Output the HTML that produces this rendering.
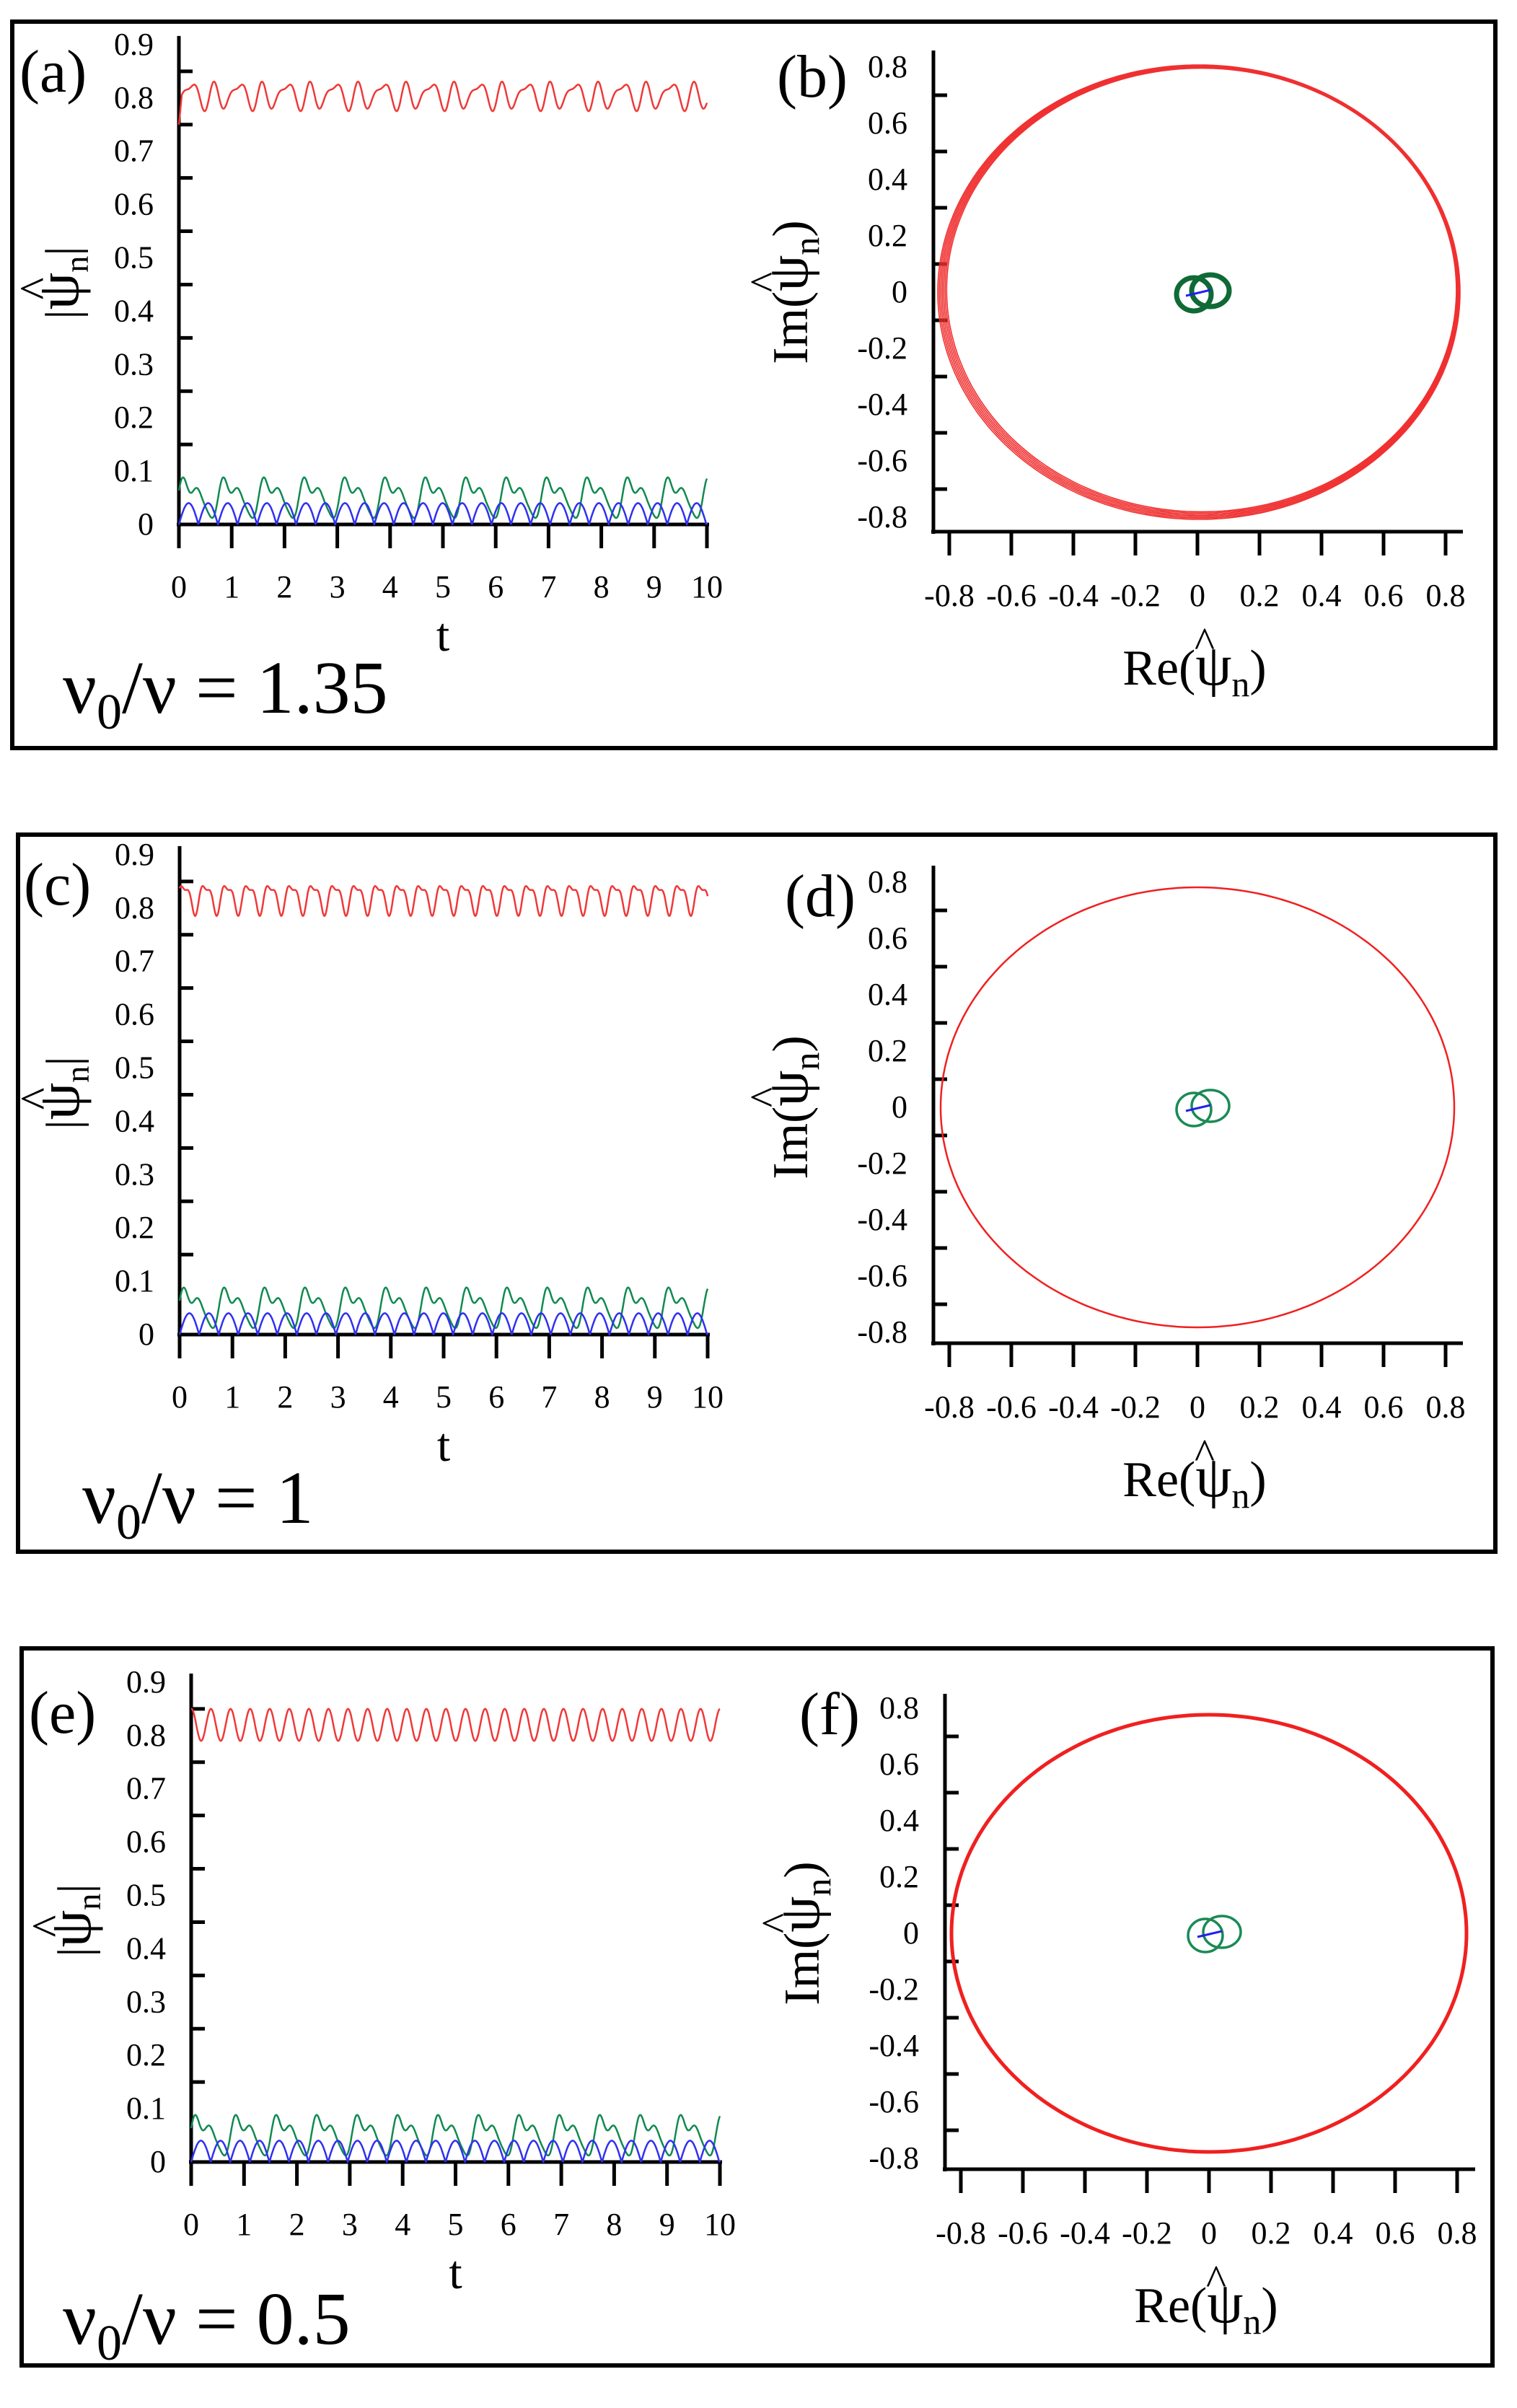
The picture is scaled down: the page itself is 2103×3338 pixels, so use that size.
<!DOCTYPE html>
<html><head><meta charset="utf-8">
<style>
html,body{margin:0;padding:0;background:#fff;}
svg{display:block;}
</style></head>
<body>
<svg id="s" width="2103" height="3338" viewBox="0 0 2103 3338" xmlns="http://www.w3.org/2000/svg"></svg>
<script>
var S=document.getElementById('s');var out='';
var FF=' font-family="\'Liberation Serif\', \'Times New Roman\', serif" ';
function T(x,y,s,fs,anchor,extra){out+='<text'+FF+'x="'+x+'" y="'+y+'" font-size="'+fs+'" text-anchor="'+(anchor||'start')+'" '+(extra||'')+'>'+s+'</text>';}
function L(x1,y1,x2,y2,w,c){out+='<line x1="'+x1+'" y1="'+y1+'" x2="'+x2+'" y2="'+y2+'" stroke="'+(c||'#000')+'" stroke-width="'+w+'"/>';}
function P(pts,c,w){var d='M'+pts.map(function(p){return p[0].toFixed(1)+' '+p[1].toFixed(1)}).join('L');out+='<path d="'+d+'" fill="none" stroke="'+c+'" stroke-width="'+w+'" stroke-linejoin="round"/>';}
function frame(x1,y1,x2,y2){out+='<rect x="'+x1+'" y="'+y1+'" width="'+(x2-x1)+'" height="'+(y2-y1)+'" fill="none" stroke="#000" stroke-width="6"/>';}
function psi(x,y,fs){
 out+='<g transform="rotate(-90 '+x+' '+y+')"><text'+FF+'x="'+x+'" y="'+y+'" font-size="'+fs+'" text-anchor="middle">|<tspan font-size="'+(fs*1.25)+'">ψ</tspan><tspan font-size="'+(fs*0.7)+'" dy="14">n</tspan><tspan dy="-14">|</tspan></text>'+
 '<text'+FF+'x="'+(x-8)+'" y="'+(y-36)+'" font-size="'+fs+'" text-anchor="middle">^</text></g>';
}
function timePlot(x0,y0,x10,lab,labx,laby,nutext,nux,nuy,mode){
 var k=739;
 L(x0,y0+3,x0,y0-0.9*k-12,5);
 L(x0-3,y0,x10+3,y0,5);
 for(var i=1;i<=8;i++){var yy=y0-(i+0.5)*k/10;L(x0,yy,x0+19,yy,5);}
 for(var i=0;i<=10;i++){var xx=x0+(x10-x0)*i/10;L(xx,y0,xx,y0+33,5);T(xx,y0+101,i,44,'middle');}
 for(var i=0;i<=9;i++){var yy=y0-i*k/10;T(x0-35,yy+14,i==0?'0':'0.'+i,44,'end');}
 T((x0+x10)/2,y0+175,'t',66,'middle');
 T(labx,laby,lab,84);
 psi(x0-140,y0-335,66);
 T(nux,nuy,'ν<tspan font-size="70" dy="22">0</tspan><tspan dy="-22">/ν = '+nutext+'</tspan>',104);
 var r=[],g=[],b=[];
 for(var j=0;j<=1500;j++){var t=j/150;var x=x0+(x10-x0)*t/10;
  var rv;
  if(mode==0) rv=0.805+0.02*Math.sin(2*Math.PI*2.2*t-1.5)+0.012*Math.sin(2*Math.PI*3.3*t+0.5)+0.006*Math.sin(2*Math.PI*1.1*t);
  else if(mode==1) rv=0.82+0.025*Math.sin(2*Math.PI*2.45*t+0.3)+0.01*Math.sin(2*Math.PI*4.9*t+1.8);
  else rv=0.82+0.03*Math.sin(2*Math.PI*2.7*t+1.5);
  if(mode==0&&t<0.05)rv=0.75+t*1.0;
  r.push([x,y0-rv*k]);
  var ph=2*Math.PI*t/0.765;
  var gv=0.052+0.028*Math.sin(ph)+0.016*Math.sin(2*ph+0.8)+0.006*Math.sin(3*ph);
  g.push([x,y0-gv*k]);
  var bv=0.04*Math.abs(Math.sin(Math.PI*t/0.37));
  b.push([x,y0-bv*k]);
 }
 P(r,'#f03838',2.5);P(g,'#108a50',2.5);P(b,'#3030f0',2.5);
}
function phasePlot(ax,top,xend,ay,xc,yc,rx,ry,lab,labx,laby,mode){
 L(ax,top,ax,ay+3,5);L(ax-3,ay,xend,ay,5);
 for(var v=-7;v<=7;v+=2){var yy=yc-v*39;L(ax,yy,ax+19,yy,5);}
 for(var i=-4;i<=4;i++){var xx=xc+i*86;L(xx,ay,xx,ay+33,5);var s=(i<0?'-':'')+(i==0?'0':'0.'+Math.abs(2*i));T(xx,ay+103,s,44,'middle');}
 for(var i=-4;i<=4;i++){var yy=yc-i*78;var s=(i<0?'-':'')+(i==0?'0':'0.'+Math.abs(2*i));T(ax-36,yy+14,s,44,'end');}
 T(labx,laby,lab,84);
 var rxp=xc-4,ryp=ay+212;
 out+='<text'+FF+'x="'+rxp+'" y="'+ryp+'" font-size="70" text-anchor="middle">Re(<tspan font-size="80">ψ</tspan><tspan font-size="50" dy="16">n</tspan><tspan dy="-16">)</tspan></text>';
 out+='<text'+FF+'x="'+(rxp+14)+'" y="'+(ryp-38)+'" font-size="60" text-anchor="middle">^</text>';
 var ix=ax-175,iy=yc;
 out+='<g transform="rotate(-90 '+ix+' '+iy+')"><text'+FF+'x="'+ix+'" y="'+iy+'" font-size="70" text-anchor="middle">Im(<tspan font-size="80">ψ</tspan><tspan font-size="50" dy="16">n</tspan><tspan dy="-16">)</tspan></text>'+
  '<text'+FF+'x="'+(ix+14)+'" y="'+(iy-38)+'" font-size="60" text-anchor="middle">^</text></g>';
 if(mode==0){
  for(var m=0;m<7;m++){var pts=[];var f=1-m*0.004;
   for(var j=0;j<=240;j++){var a=2*Math.PI*j/240;pts.push([xc+2+rx*f*Math.cos(a)+m*0.6,yc+ry*f*Math.sin(a)-m*0.5]);}
   P(pts,'#f03030',1.6);}
 }else{
  var pts=[];for(var j=0;j<=240;j++){var a=2*Math.PI*j/240;pts.push([xc+rx*Math.cos(a),yc+ry*Math.sin(a)]);}
  P(pts,'#f02020',mode==2?5:2.5);
 }
 var gc=mode==0?'#0f6a35':'#1a8a55',gw=mode==0?7:3.5;
 out+='<ellipse cx="'+(xc-5)+'" cy="'+(yc+3)+'" rx="24" ry="23" fill="none" stroke="'+gc+'" stroke-width="'+gw+'"/>';
 out+='<ellipse cx="'+(xc+18)+'" cy="'+(yc-2)+'" rx="26" ry="22" fill="none" stroke="'+gc+'" stroke-width="'+gw+'"/>';
 L(xc-16,yc+5,xc+18,yc-3,3,'#2020f0');
}
frame(17,30,2073,1037);
frame(25,1157,2073,2151);
frame(30,2285,2069,3279);
timePlot(248,727,980,'(a)',27,127,'1.35',87,988,0);
timePlot(249,1850,981,'(c)',33,1254,'1',114,2111,1);
timePlot(265,2997,998,'(e)',40,2402,'0.5',87,3249,2);
phasePlot(1294,70,2028,737,1660,405,362,315,'(b)',1077,134,0);
phasePlot(1294,1200,2028,1862,1660,1535,356,305,'(d)',1088,1270,1);
phasePlot(1310,2348,2045,3007,1676,2680,357,303,'(f)',1108,2404,2);
S.innerHTML=out;
</script>
</body></html>
